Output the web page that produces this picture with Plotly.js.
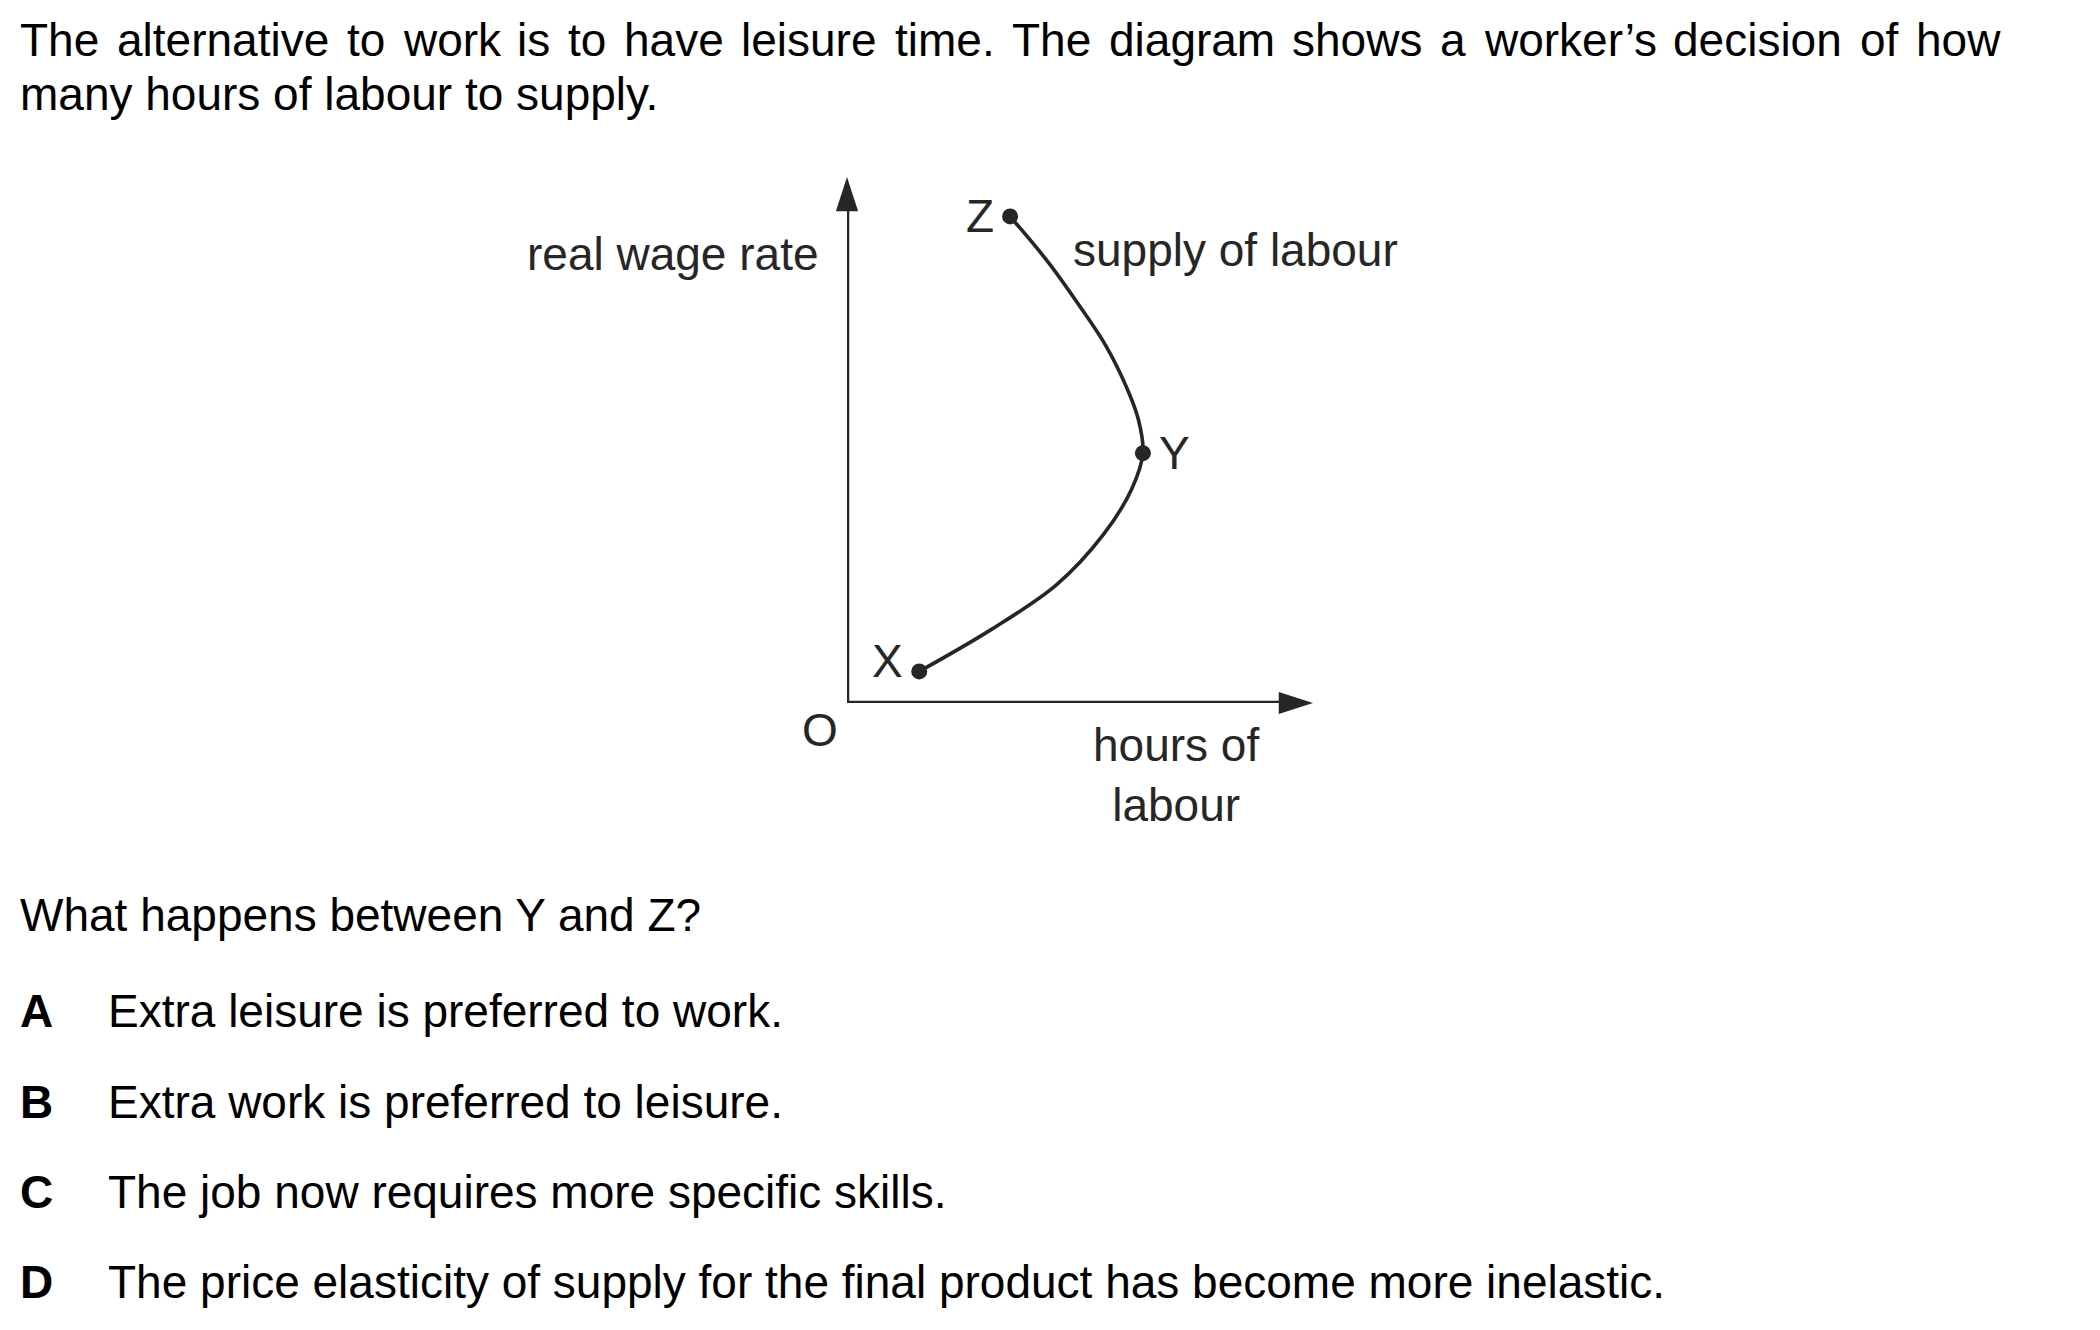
<!DOCTYPE html>
<html><head><meta charset="utf-8">
<script src="https://cdn.plot.ly/plotly-3.0.1.min.js"></script>
<style>html,body{margin:0;padding:0;background:#fff;}</style>
</head><body><div id="chart" style="width:2100px;height:1330px;"></div>
<script>
// ---- content / data ----
const introLines = [
  "The alternative to work is to have leisure time. The diagram shows a worker’s decision of how",
  "many hours of labour to supply."
];
const question = "What happens between Y and Z?";
const optionLetters = ["A", "B", "C", "D"];
const optionTexts = [
  "Extra leisure is preferred to work.",
  "Extra work is preferred to leisure.",
  "The job now requires more specific skills.",
  "The price elasticity of supply for the final product has become more inelastic."
];
const yAxisLabel = "real wage rate";
const xAxisLabel = "hours of<br>labour";
const curveLabel = "supply of labour";
const originLabel = "O";
// supply of labour curve, from X (bottom) through Y to Z (top)
const hoursSupplied = [1.55, 3.1, 4.5, 5.5, 6.1, 6.35, 6.25, 6.0, 5.55, 4.95, 4.3, 3.5];
const realWage      = [0.6, 1.4, 2.25, 3.2, 4.05, 4.75, 5.4, 6.0, 6.8, 7.6, 8.4, 9.25];
const pointNames = ["X", "Y", "Z"];
const pointHours = [1.55, 6.35, 3.5];
const pointWage  = [0.6, 4.75, 9.25];
const axisMax = 10;

// ---- layout geometry (pixels) ----
const W = 2100, H = 1330;
const L = 847, T = 177, PW = 466, PH = 526;
const px = x => (x - L) / PW;
const py = y => (T + PH - y) / PH;
const FONT = "Liberation Sans, Arial, sans-serif";
const FS = 46;
const INK = "#262626";

const headLenPx = 34;
const xHeadBack = axisMax - headLenPx / PW * axisMax;
const yHeadBack = axisMax - headLenPx / PH * axisMax;

const traces = [
  { // axes
    x: [0, 0, 0, xHeadBack], y: [yHeadBack, 0, 0, 0],
    mode: "lines", line: { color: INK, width: 4.5 }, hoverinfo: "skip", cliponaxis: false
  },
  { // arrow heads
    x: [axisMax, 0], y: [0, axisMax], mode: "markers",
    marker: { symbol: "arrow", size: 36, angle: [90, 0], color: INK, line: { width: 0 } },
    hoverinfo: "skip", cliponaxis: false
  },
  { // supply curve
    x: hoursSupplied, y: realWage, mode: "lines",
    line: { color: INK, width: 3.6, shape: "spline", smoothing: 1 },
    cliponaxis: false
  },
  { // points
    x: pointHours, y: pointWage, mode: "markers",
    marker: { size: 16, color: INK }, cliponaxis: false
  }
];

const ann = [];
const txt = (text, x, y, opts) => Object.assign({
  text, x: px(x), y: py(y), xref: "paper", yref: "paper", showarrow: false,
  xanchor: "left", yanchor: "middle", font: { family: FONT, size: FS, color: "#000" }
}, opts || {});

// justified first line: measure words and spread them between the margins
const ctx = document.createElement("canvas").getContext("2d");
ctx.font = FS + "px 'Liberation Sans'";
function justify(line, x0, x1, y) {
  const words = line.split(" ");
  const widths = words.map(w => ctx.measureText(w).width);
  const total = widths.reduce((a, b) => a + b, 0);
  const gap = (x1 - x0 - total) / (words.length - 1);
  let x = x0;
  words.forEach((w, i) => {
    ann.push(txt(w, x, y, { borderpad: 0 }));
    x += widths[i] + gap;
  });
}
justify(introLines[0], 19, 1999, 40);
ann.push(txt(introLines[1], 19, 94, { borderpad: 0 }));
ann.push(txt(question, 18, 915));
const optY = [1011, 1102, 1192, 1282];
optionLetters.forEach((l, i) => {
  ann.push(txt("<b>" + l + "</b>", 18, optY[i]));
  ann.push(txt(optionTexts[i], 106, optY[i]));
});
ann.push(txt(yAxisLabel, 821, 254, { xanchor: "right", font: { family: FONT, size: FS, color: INK } }));
ann.push(txt(curveLabel, 1071, 250, { font: { family: FONT, size: FS, color: INK } }));
ann.push(txt(xAxisLabel, 1176, 775, { xanchor: "center", align: "center", font: { family: FONT, size: FS, color: INK } }));
ann.push(txt(originLabel, 820, 730, { xanchor: "center", font: { family: FONT, size: FS, color: INK } }));

// point labels
const labelShift = [[-14, 10, "right"], [14, 0, "left"], [-14, 0, "right"]];
pointNames.forEach((n, i) => {
  ann.push({
    text: n, x: pointHours[i], y: pointWage[i], xref: "x", yref: "y", showarrow: false,
    xanchor: labelShift[i][2], yanchor: "middle", xshift: labelShift[i][0], yshift: labelShift[i][1],
    font: { family: FONT, size: FS, color: INK }
  });
});

const layout = {
  width: W, height: H,
  margin: { l: L, t: T, r: W - L - PW, b: H - T - PH, pad: 0 },
  paper_bgcolor: "#fff", plot_bgcolor: "#fff",
  showlegend: false,
  xaxis: { range: [0, axisMax], visible: false, fixedrange: true },
  yaxis: { range: [0, axisMax], visible: false, fixedrange: true },
  annotations: ann
};

Plotly.newPlot("chart", traces, layout, { staticPlot: true, displayModeBar: false });
</script>
</body></html>
